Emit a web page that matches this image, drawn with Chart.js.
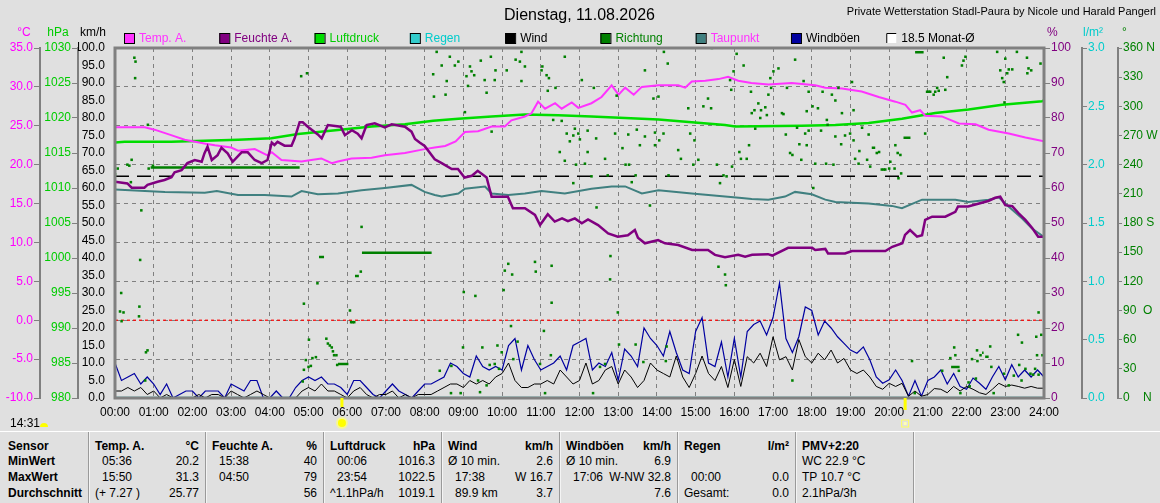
<!DOCTYPE html>
<html lang="de">
<head>
<meta charset="utf-8">
<title>Wetterstation Stadl-Paura</title>
<script src="https://cdn.jsdelivr.net/npm/chart.js@4.4.1/dist/chart.umd.min.js"></script>
<style>
  body { margin: 0; background: #e0e0e0; width: 1160px; height: 503px; overflow: hidden; }
  #box { position: relative; width: 1160px; height: 430px; }
  #tab { position: absolute; left: 0; top: 431px; width: 1160px; height: 72px; border-top: 1px solid #fff;
         font: 12px "Liberation Sans", Arial, sans-serif; color: #000; }
  .sep { position: absolute; top: 0; width: 1px; height: 72px; background: #9a9a9a; border-right: 1px solid #f4f4f4; }
  .c { position: absolute; white-space: pre; line-height: 15px; }
  .b { font: bold 12px "Liberation Sans", Arial, sans-serif; }
</style>
</head>
<body>
<div id="box"><canvas id="wx" width="1160" height="430"></canvas></div>
<div id="tab"></div>
<script>
// ---- data (time in hours) ----
const titleText = 'Dienstag, 11.08.2026';
const stationText = 'Private Wetterstation Stadl-Paura by Nicole und Harald Pangerl';
const updateTime = '14:31';
const sunrise = 5.85;
const sunset = 20.4;
const monthAvgTemp = 18.5;

const tempTime = [0,0.77,1.02,1.45,1.80,2.34,2.58,3.00,3.18,3.61,3.94,4.05,4.30,4.82,5.07,5.33,5.60,5.76,6.11,6.63,6.97,7.49,8.00,8.26,8.53,8.80,9.04,9.38,9.73,10.07,10.24,10.59,10.76,10.93,11.11,11.37,11.54,11.80,11.97,12.31,12.57,12.83,13.01,13.18,13.40,13.61,14.04,14.55,14.73,14.90,15.25,15.59,15.84,16.10,16.44,16.88,17.48,18.09,18.35,18.78,19.29,19.73,20.16,20.42,20.59,20.80,20.93,21.36,21.80,22.23,22.57,23.09,23.52,24.0];
const tempVal = [24.8,24.8,24.5,23.8,23.2,22.7,22.5,22.2,21.8,22.0,21.2,21.6,20.6,20.4,20.6,20.8,20.2,20.4,20.8,20.9,21.2,21.5,22.0,22.2,22.4,23.0,24.2,24.3,24.9,24.9,25.7,26.2,26.6,28.1,27.2,27.9,27.2,28.0,27.3,27.9,28.7,30.2,29.0,29.9,29.0,30.0,30.2,30.2,29.9,30.7,30.8,31.0,31.3,30.8,30.5,30.3,30.5,30.2,29.9,29.8,29.4,28.7,28.1,27.7,26.7,27.0,26.3,26.2,25.3,25.2,24.5,24.0,23.5,23.0];

const humTime = [0.00,0.32,0.43,0.76,0.84,1.10,1.28,1.46,1.54,1.72,1.87,2.06,2.24,2.31,2.39,2.50,2.65,2.75,2.91,3.04,3.27,3.43,3.61,3.79,3.94,4.05,4.12,4.20,4.38,4.56,4.64,4.77,4.85,4.98,5.24,5.34,5.50,5.83,5.94,6.12,6.27,6.37,6.50,6.71,6.97,7.15,7.49,7.66,7.75,7.87,8.00,8.26,8.44,8.70,8.86,9.03,9.22,9.37,9.60,9.73,10.15,10.28,10.59,10.85,10.98,11.18,11.36,11.55,11.70,11.88,12.06,12.22,12.48,12.74,12.99,13.25,13.43,13.51,13.69,14.03,14.21,14.55,14.91,15.32,15.50,15.76,16.10,16.28,16.46,16.87,16.98,17.39,18.01,18.09,18.35,18.42,18.86,19.04,19.90,20.08,20.34,20.41,20.54,20.72,20.85,20.93,21.11,21.45,21.71,21.78,22.04,22.56,22.74,22.87,23.00,23.18,23.34,23.52,23.70,23.85,24.00];
const humVal = [61.8,61.3,60.1,60.1,60.9,61.8,62.3,63.1,64.5,65.1,67.1,68.0,67.5,69.9,71.8,68.0,69.4,71.5,69.9,67.5,70.2,70.2,68.0,67.1,68.0,73.0,72.3,73.2,72.1,72.1,74.2,78.8,78.8,77.5,75.3,74.2,78.0,77.5,75.1,76.5,75.5,74.2,78.0,78.5,77.3,78.2,77.5,76.1,74.0,73.0,72.0,68.2,67.1,65.4,65.4,63.0,63.5,64.9,63.0,57.5,57.5,54.2,54.2,52.3,49.4,52.5,50.4,51.3,50.5,51.3,49.9,51.0,49.4,47.0,46.1,46.5,48.0,45.8,44.2,45.1,44.2,43.7,42.3,42.3,40.9,40.2,40.9,40.4,40.9,41.1,40.7,42.9,42.9,42.3,42.6,41.3,41.3,42.0,42.0,43.2,44.2,46.6,48.0,46.1,46.5,50.9,51.8,51.8,53.2,54.7,54.7,56.3,57.2,57.5,55.1,54.8,52.8,50.9,48.5,46.1,46.1];

const presTime = [0,0.25,1.45,3.18,4.04,4.73,5.76,6.63,7.49,8.22,8.87,9.73,10.59,11.45,12.31,13.18,14.04,14.90,15.76,16.02,17.74,18.61,19.47,20.33,21.19,22.05,22.92,23.95,24];
const presVal = [1016.5,1016.6,1016.6,1016.9,1017.1,1017.7,1018.3,1018.8,1019.1,1019.6,1019.9,1020.2,1020.5,1020.4,1020.2,1020.0,1019.8,1019.4,1019.0,1018.8,1018.9,1019.0,1019.3,1019.9,1020.7,1021.2,1021.9,1022.4,1022.5];

const dewTime = [0,1.29,2.32,2.63,3.18,3.87,4.56,4.82,5.24,5.76,6.37,6.97,7.66,8.00,8.26,8.44,8.87,9.04,9.56,9.73,10.16,10.59,11.02,11.62,12.31,12.83,13.18,13.61,14.04,14.90,15.33,15.76,16.19,16.45,16.88,17.31,17.57,18.00,18.35,18.61,19.47,20.07,20.33,20.85,21.19,21.71,22.05,22.57,22.83,23.09,23.43,23.69,24];
const dewVal = [16.8,16.5,16.4,16.6,16.1,16.1,15.9,16.6,16.2,16.3,16.7,17.0,17.4,16.5,16.1,15.9,16.3,16.9,17.2,16.3,16.1,16.3,16.6,16.3,16.9,17.2,17.2,16.3,16.7,16.3,16.1,15.9,15.7,15.6,15.5,15.9,16.5,16.2,15.5,15.2,15.0,14.7,14.4,15.5,15.5,15.5,15.2,15.5,15.8,14.6,13.1,11.8,10.7];

// wind, 10-minute steps from 00:00 to 24:00
const windAvg = [2,2,3,2,3,1, 2,0,1,0,0,0, 0,1,0,1,1,0, 2,1,0,1,2,1, 0,0,0,0,0,2, 3,2,4,2,2,1, 0,2,3,1,0,1, 1,2,0,1,0,1,
  1,1,2,3,4,4, 3,5,4,5,4,6, 7,10,5,3,3,4, 4,5,4,8,6,4, 5,10,4,5,8,9, 4,8,6,3,5,10, 8,7,6,12,6,3, 7,12,7,5,9,3,
  11,3.3,11.8,10,12.8,9, 17.5,10.9,11.8,8,16.7,11.8, 10,12.8,10.9,13.7,10,11.3, 8,7,8,6,3.3,2.5, 4.2,3.3,4.2,0.5,2,0.5, 1,2.7,2.5,1.5,3.3,2, 3.3,2.5,1.5,1,2.5,4.2, 3.3,3.7,3.3,2.8,3.3,2.8, 2.8];
const windGust = [10,5,6,7,4,6, 4,1,4,0,1,2, 2,0,2,2,2,0, 4,3,2,5,5,0, 0,2,0,0,3,5, 6,5,6,4,4,3, 1,5,5,3,1,0, 2,4,2,1,0,2,
  4,4,5,6,10,9, 7,6,12,9,8,9, 8,15,17,8,15,11, 8,9,10,12,8,15, 16,17,8,10,9,13, 5,14,12,9,20,17, 15,12,19,13,8,7, 19,23,10,9,16,6,
  17,6,19,21,22,18, 23,32.8,17,13,17.5,26, 25,18,22,20,17.5,15.6, 13.7,12.8,14.6,10.9,6,4.2, 5.2,8,5,0.5,5,0.5, 5,6,8,4,7,3.3, 2.5,5.7,4.2,2.5,6,9, 5.2,9.5,6,8,6,8, 6];

const dirTime = [
  0.00,0.07,0.13,0.16,0.17,0.22,0.32,0.37,0.41,0.43,0.50,0.52,0.53,0.62,0.63,0.65,0.68,0.78,0.80,0.84,0.85,0.87,0.98,
  4.81,4.85,4.88,4.88,4.93,4.96,5.00,5.01,5.06,5.10,5.19,5.23,5.46,5.50,5.55,5.60,5.63,5.66,5.72,5.74,6.07,6.10,6.14,6.18,6.35,6.37,
  8.22,8.24,8.31,8.39,8.44,8.54,8.57,8.65,8.68,8.69,8.78,8.87,8.93,8.99,9.01,9.04,9.08,9.12,9.17,9.21,9.28,9.31,9.38,9.43,9.45,9.49,9.55,9.60,9.60,9.68,9.71,9.73,9.81,9.81,9.83,9.88,9.92,9.99,
  10.04,10.07,10.12,10.16,10.23,10.26,10.29,10.35,10.40,10.46,10.50,10.50,10.59,10.85,10.87,10.98,11.02,11.04,11.08,11.11,11.15,11.18,11.21,11.26,11.28,11.28,11.32,11.38,11.49,11.54,11.62,11.62,11.67,11.75,11.84,11.84,11.88,11.91,11.97,
  12.01,12.06,12.14,12.21,12.21,12.31,12.35,12.37,12.43,12.44,12.53,12.61,12.66,12.66,12.73,12.79,12.80,12.92,12.96,12.99,13.02,13.11,13.19,13.26,13.28,13.35,13.45,13.45,13.48,13.56,13.65,13.69,13.69,13.82,13.91,13.95,13.95,
  14.04,14.06,14.17,14.18,14.23,14.25,14.28,14.30,14.55,14.62,14.81,14.86,14.94,14.97,15.07,15.20,15.32,15.40,15.42,15.55,15.59,15.63,15.72,15.76,15.78,15.80,15.89,15.92,15.94,15.98,
  16.06,16.13,16.17,16.24,16.32,16.38,16.43,16.45,16.52,16.54,16.62,16.67,16.69,16.80,16.84,16.88,16.93,16.95,17.01,17.14,17.23,17.27,17.33,17.36,17.44,17.50,17.50,17.57,17.62,17.68,17.73,17.79,17.83,17.87,17.87,17.92,17.92,
  18.02,18.04,18.09,18.16,18.24,18.28,18.37,18.39,18.41,18.52,18.56,18.61,18.61,18.69,18.76,18.78,18.86,18.99,19.04,19.08,19.08,19.12,19.21,19.23,19.30,19.43,19.47,19.51,19.68,19.74,19.81,19.86,19.90,
  20.00,20.03,20.14,20.16,20.22,20.24,20.29,20.31,20.59,20.66,20.93,20.98,21.02,21.06,21.15,21.19,21.24,21.28,21.37,21.41,21.45,21.50,21.58,21.68,21.71,21.80,21.84,21.88,21.92,21.97,
  22.05,22.08,22.14,22.24,22.27,22.28,22.36,22.61,22.64,22.70,22.79,22.87,22.92,22.96,22.97,22.98,23.00,23.05,23.09,23.09,23.18,23.22,23.30,23.33,23.36,23.42,23.43,23.52,23.56,23.57,23.60,23.65,23.67,23.72,23.77,23.80,23.82,23.86,23.86,23.91,23.93,23.96];
const dirDeg = [
  230,236,89,108,79,88,240,239,222,245,350,329,346,84,94,142,193,18,47,49,281,236,239,
  331,17,97,29,39,334,32,60,33,41,42,118,61,56,54,52,48,44,44,34,90,78,78,78,130,176,
  333,310,356,28,342,312,326,351,5,33,342,346,5,52,109,294,331,321,341,336,332,105,18,6,347,52,327,314,13,34,351,274,327,35,337,54,30,47,
  111,131,337,138,74,127,40,348,58,346,356,326,341,140,130,35,337,341,69,5,332,316,329,44,98,136,286,319,253,285,351,244,272,264,270,221,277,240,272,
  266,327,241,275,253,228,5,319,267,196,32,360,246,35,229,122,146,272,311,88,55,257,240,271,240,222,229,55,276,260,37,337,269,198,308,273,260,
  310,265,272,356,38,53,344,229,255,246,298,272,240,265,245,300,308,298,360,240,135,221,229,127,116,228,327,317,238,336,
  354,253,246,342,246,260,315,293,296,277,303,288,296,299,291,312,329,319,336,339,293,292,271,319,252,250,18,348,278,261,245,326,272,295,260,315,275,
  300,216,241,298,275,315,241,286,281,312,240,306,269,319,261,293,270,272,325,296,265,246,241,254,278,245,271,238,252,253,235,235,235,
  236,243,236,260,252,226,250,231,38,5,272,315,315,315,312,315,319,316,28,350,317,330,41,52,44,28,5,342,347,351,
  16,12,40,20,49,38,44,53,32,5,356,337,329,325,25,304,349,334,338,13,338,23,356,65,34,18,57,30,350,334,339,25,337,24,30,63,44,88,24,344,65,44];
// steady direction over a stretch of time: [from, to, degrees]
const dirRuns = [[0.92,4.77,237],[5.27,5.40,145],[5.76,6.03,35],[6.20,6.30,125.5],[6.38,8.18,149.5],[19.55,19.64,257.5],[20.37,20.55,267.7],[20.67,20.89,355.6],[21.60,21.82,32],[22.40,22.44,46.6],[22.48,22.57,42.5]];
const rainTime = [0, 24];
const rainVal = [0, 0];

const legendNames = ['Temp. A.','Feuchte A.','Luftdruck','Regen','Wind','Richtung','Taupunkt','Windböen', monthAvgTemp.toFixed(1) + ' Monat-Ø'];
const legendBox = ['#ff33ff','#800080','#00dd00','#33cccc','#000000','#008000','#408080','#0000a0','#ffffff'];
const legendInk = ['#ff33ff','#800080','#00cc00','#00cccc','#000000','#008000','#ff33ff','#000000','#000000'];
const compass = {0: '0    N', 90: '90  O', 180: '180 S', 270: '270 W', 360: '360 N'};

// ---- chart ----
const FONT = '"Liberation Sans",Arial,sans-serif';
Chart.defaults.font.family = FONT;
Chart.defaults.font.size = 12;
Chart.defaults.color = '#000';

const pts = (t, v) => t.map((x, i) => ({x, y: v[i]}));
const tenMin = v => v.map((y, i) => ({x: i / 6, y}));
const runPts = [];
dirRuns.forEach(r => runPts.push({x: r[0], y: r[2]}, {x: r[1], y: r[2]}, {x: r[1], y: null}));

const line = (data, axis, color, width, extra) => Object.assign({
  data, yAxisID: axis, borderColor: color, borderWidth: width,
  pointRadius: 0, tension: 0, fill: false
}, extra || {});

const sideAxis = (pos, weight, width, min, max, step, color, fmt, grid, border, pad) => ({
  type: 'linear', position: pos, weight, min, max,
  ticks: {stepSize: step, autoSkip: false, color, padding: pad || 1, callback: fmt},
  grid: Object.assign({color: '#808080', tickLength: 6, drawOnChartArea: false, tickBorderDash: []}, grid || {}),
  border: Object.assign({display: true, color: '#808080', width: 2}, border || {}),
  afterFit: s => { s.width = width; }
});

const wxDecor = {
  id: 'wxDecor',
  afterDraw(chart) {
    const {ctx, chartArea: a, scales} = chart;
    ctx.save();
    ctx.strokeStyle = '#808080';
    ctx.lineWidth = 3;
    ctx.strokeRect(a.left, a.top, a.right - a.left, a.bottom - a.top);

    ctx.textBaseline = 'middle';
    ctx.fillStyle = '#000';
    ctx.font = '16px ' + FONT;
    ctx.textAlign = 'center';
    ctx.fillText(titleText, (a.left + a.right) / 2, 16);
    ctx.font = '11px ' + FONT;
    ctx.textAlign = 'right';
    ctx.fillText(stationText, 1156, 12);

    // legend row
    ctx.font = '12px ' + FONT;
    const step = (a.right - a.left) / 9.75;
    ctx.textAlign = 'left';
    legendNames.forEach((name, i) => {
      const x = a.left + 9 + i * step;
      ctx.fillStyle = legendBox[i];
      ctx.fillRect(x, 33, 10, 10);
      ctx.strokeStyle = '#000';
      ctx.lineWidth = 1;
      if (i === legendNames.length - 1) {
        ctx.beginPath();
        ctx.moveTo(x + 0.5, 43); ctx.lineTo(x + 0.5, 33.5); ctx.lineTo(x + 10, 33.5);
        ctx.stroke();
      } else {
        ctx.strokeRect(x + 0.5, 33.5, 10, 10);
      }
      ctx.fillStyle = legendInk[i];
      ctx.fillText(name, x + 15, 38.5);
    });

    // axis titles
    const ttl = (txt, x, color, align) => { ctx.fillStyle = color; ctx.textAlign = align; ctx.fillText(txt, x, 33); };
    ttl('°C', scales.yT.left + 24, '#ff00ff', 'center');
    ttl('hPa', scales.yP.left + 18, '#00cc00', 'center');
    ttl('km/h', scales.yW.left + 15, '#000', 'center');
    ttl('%', scales.yH.left + 3, '#800080', 'left');
    ttl('l/m²', scales.yR.left + 1, '#00cccc', 'left');
    ttl('°', scales.yD.left + 4, '#008000', 'left');

    // sunrise / sunset markers
    const xs = scales.x;
    ctx.fillStyle = '#ffff00';
    const sr = xs.getPixelForValue(sunrise), ss = xs.getPixelForValue(sunset);
    ctx.fillRect(sr - 1, a.bottom, 3, 9);
    ctx.fillRect(ss - 1, a.bottom, 3, 12);
    ctx.fillStyle = 'rgba(255,255,120,0.7)';
    ctx.beginPath(); ctx.arc(sr + 0.5, 423, 6, 0, Math.PI * 2); ctx.fill();
    ctx.fillStyle = '#ffff00';
    ctx.beginPath(); ctx.arc(sr + 0.5, 423, 4, 0, Math.PI * 2); ctx.fill();
    ctx.strokeStyle = '#ffff60';
    ctx.strokeRect(ss - 3, 420, 7, 7);
    ctx.fillStyle = '#ffffb0';
    ctx.fillRect(ss - 1, 422, 3, 3);

    // time of last update
    ctx.fillStyle = '#000';
    ctx.textAlign = 'left';
    ctx.font = '12px ' + FONT;
    ctx.fillText(updateTime, 10, 424);
    ctx.fillStyle = '#ffff00';
    ctx.beginPath(); ctx.arc(44, 427, 4, Math.PI, 0); ctx.fill();
    ctx.restore();
  }
};

new Chart(document.getElementById('wx'), {
  type: 'line',
  data: {
    datasets: [
      {label: 'Richtung', data: pts(dirTime, dirDeg), yAxisID: 'yD', showLine: false,
       pointStyle: 'rect', pointRadius: 1.8, pointBorderWidth: 0, pointBackgroundColor: '#008000'},
      line(pts(humTime, humVal), 'yH', '#800080', 2.5),
      line(pts(tempTime, tempVal), 'yT', '#ff33ff', 2),
      line(pts(presTime, presVal), 'yP', '#00dd00', 2.5),
      line(pts(dewTime, dewVal), 'yT', '#408080', 2),
      line(tenMin(windAvg), 'yW', '#000000', 1),
      line(tenMin(windGust), 'yW', '#0000a0', 1.2),
      line(runPts, 'yD', '#008000', 2.5, {spanGaps: false}),
      line(pts(rainTime, rainVal), 'yR', '#33cccc', 2.5),
      line([{x: 0, y: monthAvgTemp}, {x: 24, y: monthAvgTemp}], 'yT', '#000000', 1.5, {borderDash: [14, 8]}),
      line([{x: 0, y: 0}, {x: 24, y: 0}], 'yT', '#ff0000', 1.2, {borderDash: [3, 3]})
    ]
  },
  options: {
    responsive: false,
    animation: false,
    events: [],
    layout: {padding: {top: 48, left: 0, right: 0, bottom: 0}},
    plugins: {legend: {display: false}, tooltip: {enabled: false}, title: {display: false}},
    scales: {
      x: {
        type: 'linear', position: 'bottom', min: 0, max: 24,
        ticks: {stepSize: 1, autoSkip: false, maxRotation: 0, padding: 7, color: '#000',
                callback: v => String(v).padStart(2, '0') + ':00'},
        grid: {color: '#808080', drawTicks: false, lineWidth: 1},
        border: {display: false, dash: [4, 4]},
        afterFit: s => { s.height = 32; }
      },
      yT: sideAxis('left', 2, 40, -10, 35, 5, '#ff00ff', v => v.toFixed(1),
                   {drawOnChartArea: true}, {dash: [4, 4]}),
      yP: sideAxis('left', 1, 38, 980, 1030, 5, '#00cc00', v => String(v)),
      yW: sideAxis('left', 0, 37, 0, 100, 5, '#000000', v => v.toFixed(1),
                   {display: false}, {display: false}, 4),
      yH: sideAxis('right', 0, 38, 0, 100, 10, '#800080', v => String(v), null, {display: false}),
      yR: sideAxis('right', 1, 36, 0, 3, 0.5, '#00cccc', v => v.toFixed(1), {tickLength: 5}),
      yD: sideAxis('right', 2, 42, 0, 360, 30, '#008000', v => compass[v] || String(v), {tickLength: 4})
    }
  },
  plugins: [wxDecor]
});

// ---- summary table below the plot ----
const tabRowNames = ['Sensor', 'MinWert', 'MaxWert', 'Durchschnitt'];
const tabCols = [
  {head: 'Temp. A.', unit: '°C', rows: [['05:36', '20.2'], ['15:50', '31.3'], ['(+ 7.27 )', '25.77']]},
  {head: 'Feuchte A.', unit: '%', rows: [['15:38', '40'], ['04:50', '79'], ['', '56']]},
  {head: 'Luftdruck', unit: 'hPa', rows: [['00:06', '1016.3'], ['23:54', '1022.5'], ['^1.1hPa/h', '1019.1']]},
  {head: 'Wind', unit: 'km/h', rows: [['Ø 10 min.', '2.6'], ['17:38', 'W 16.7'], ['89.9 km', '3.7']]},
  {head: 'Windböen', unit: 'km/h', rows: [['Ø 10 min.', '6.9'], ['17:06', 'W-NW 32.8'], ['', '7.6']]},
  {head: 'Regen', unit: 'l/m²', rows: [['', ''], ['00:00', '0.0'], ['Gesamt:', '0.0']]},
  {head: 'PMV+2:20', unit: '', rows: [['WC 22.9 °C', ''], ['TP 10.7 °C', ''], ['2.1hPa/3h', '']]}
];
const tab = document.getElementById('tab');
const rowTop = [7, 22, 38, 54];
const put = (txt, x, y, cls, right) => {
  const d = document.createElement('div');
  d.className = 'c' + (cls ? ' ' + cls : '');
  d.textContent = txt;
  d.style.top = y + 'px';
  if (right) d.style.right = (1160 - x) + 'px'; else d.style.left = x + 'px';
  tab.appendChild(d);
};
tabRowNames.forEach((n, r) => put(n, 8, rowTop[r], 'b'));
const colLeft = [88, 205, 323, 441, 559, 677, 795, 913];
colLeft.forEach(x => {
  const s = document.createElement('div');
  s.className = 'sep'; s.style.left = x + 'px';
  tab.appendChild(s);
});
tabCols.forEach((c, i) => {
  const x0 = colLeft[i], x1 = colLeft[i + 1];
  put(c.head, x0 + 7, rowTop[0], 'b');
  if (c.unit) put(c.unit, x1 - 6, rowTop[0], 'b', true);
  c.rows.forEach((r, k) => {
    const indent = (i < 6 && /^\d/.test(r[0])) ? 14 : 7;
    if (r[0]) put(r[0], x0 + indent, rowTop[k + 1]);
    if (r[1]) put(r[1], x1 - 6, rowTop[k + 1], '', true);
  });
});
</script>
</body>
</html>
